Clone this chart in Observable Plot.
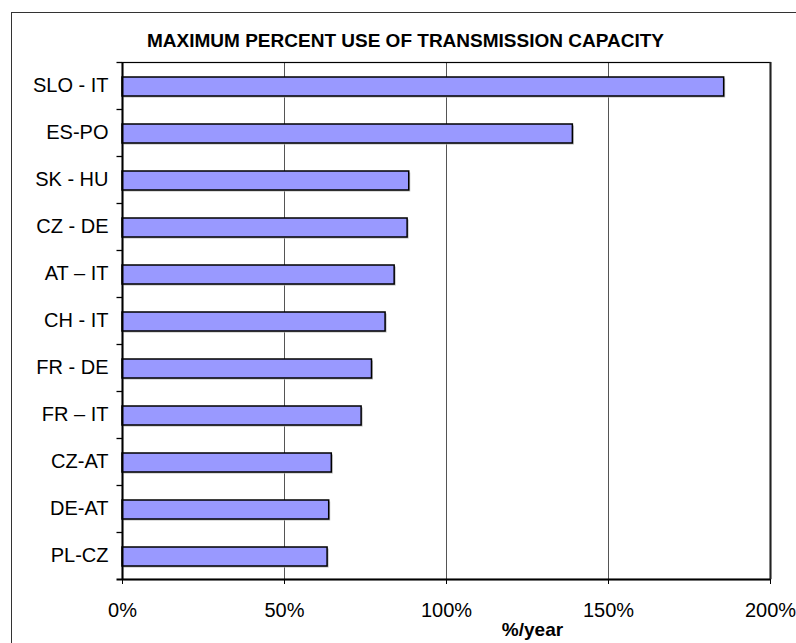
<!DOCTYPE html>
<html>
<head>
<meta charset="utf-8">
<script src="https://cdn.jsdelivr.net/npm/d3@7"></script>
<script src="https://cdn.jsdelivr.net/npm/@observablehq/plot@0.6"></script>
<style>
  html, body { margin: 0; padding: 0; background: #fff; }
  #wrap { position: relative; width: 796px; height: 643px; overflow: hidden; font-family: "Liberation Sans", Arial, sans-serif; }
  #border { position: absolute; left: 10.5px; top: 11.5px; width: 800px; height: 700px; border-left: 1.4px solid #333; border-top: 1.4px solid #333; box-sizing: border-box; }
  #title { position: absolute; left: 0; width: 811px; top: 30px; text-align: center; font-weight: bold; font-size: 19px; line-height: 22px; color: #000; }
  #chart { position: absolute; left: 0; top: 0; }
</style>
</head>
<body>
<div id="wrap">
  <div id="border"></div>
  <div id="title">MAXIMUM PERCENT USE OF TRANSMISSION CAPACITY</div>
  <div id="chart"></div>
</div>
<script>
const categories = ["SLO - IT", "ES-PO", "SK - HU", "CZ - DE", "AT – IT", "CH - IT", "FR - DE", "FR – IT", "CZ-AT", "DE-AT", "PL-CZ"];
const values = [185.7, 139.0, 88.5, 88.0, 84.0, 81.2, 77.0, 73.8, 64.6, 63.8, 63.3];
const xTicks = [0, 50, 100, 150, 200];
const gridValues = [50, 100, 150];
const xLabel = "%/year";

const data = categories.map((name, i) => ({name, value: values[i]}));
const font = '"Liberation Sans", Arial, sans-serif';

const chart = Plot.plot({
  width: 796,
  height: 643,
  marginLeft: 122,
  marginRight: 26,
  marginTop: 62,
  marginBottom: 64,
  style: {fontFamily: font, fontSize: "20px", color: "#000", background: "transparent", overflow: "visible"},
  x: {domain: [0, 200]},
  y: {domain: categories, padding: 0},
  marks: [
    Plot.ruleX(gridValues, {stroke: "#555", strokeWidth: 1}),
    Plot.frame({stroke: "#000", strokeWidth: 1.2}),
    Plot.barX(data, {x: "value", y: "name", fill: "#b8b8b8", insetTop: 15, insetBottom: 13, dx: 1.5, dy: 1.5}),
    Plot.barX(data, {x: "value", y: "name", fill: "#9999ff", stroke: "#000", strokeWidth: 1.5, insetTop: 15, insetBottom: 13}),
    Plot.ruleX([0], {stroke: "#000", strokeWidth: 2}),
    Plot.ruleX([200], {stroke: "#222", strokeWidth: 2}),
    Plot.ruleY(categories, {y: d => d, x1: 0, x2: 0, insetLeft: -5.5, dy: -23.5, stroke: "#000", strokeWidth: 1.3}),
    Plot.ruleY([categories[categories.length - 1]], {y: d => d, x1: 0, x2: 200, insetLeft: -5.5, dy: 23.5, stroke: "#000", strokeWidth: 2}),
    Plot.axisY({tickSize: 0, tickPadding: 14, fontSize: 20, label: null}),
    Plot.axisX({ticks: xTicks, tickSize: 5, tickPadding: 18.5, fontSize: 20, tickFormat: d => d + "%", label: null}),
    Plot.text([xLabel], {frameAnchor: "bottom", dx: 86, dy: 50, text: d => d, fontWeight: "bold", fontSize: 19, textAnchor: "middle", lineAnchor: "middle"})
  ]
});
document.getElementById("chart").appendChild(chart);
</script>
</body>
</html>
